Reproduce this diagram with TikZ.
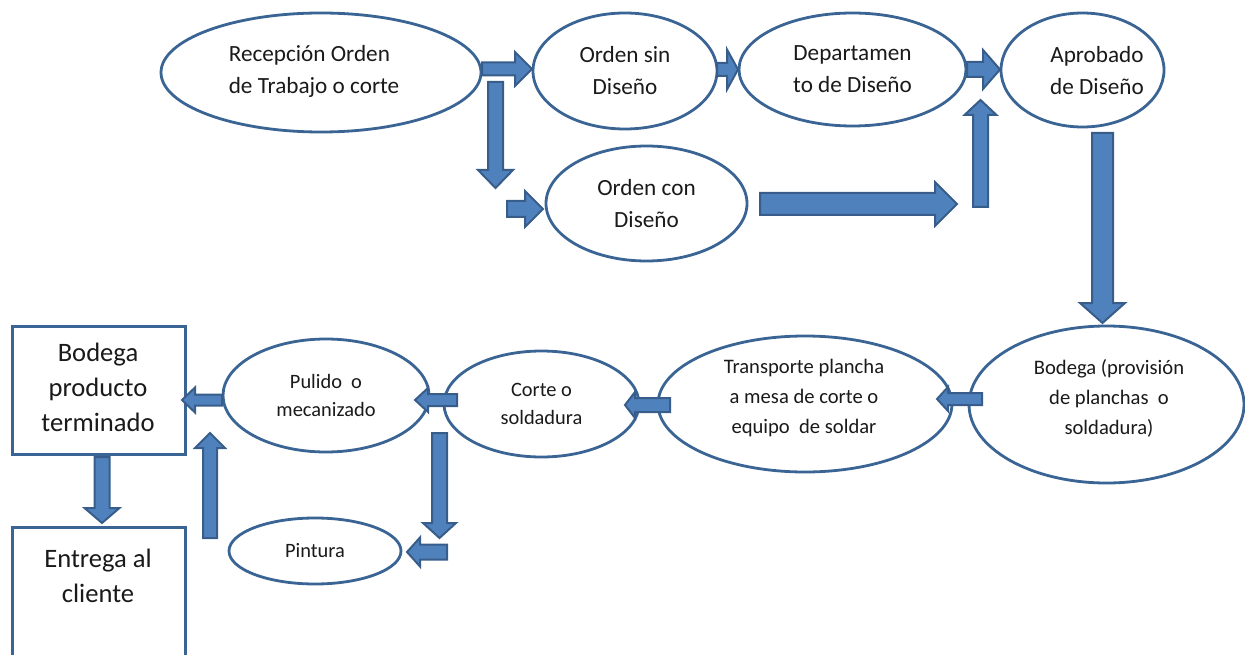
\documentclass[tikz,border=0pt]{standalone}
\usepackage{fontspec}
\setmainfont{Carlito}
\usetikzlibrary{shapes.geometric,calc}
\definecolor{afill}{HTML}{4F81BD}
\definecolor{aline}{HTML}{385D8A}
\definecolor{sline}{HTML}{3A6494}
\definecolor{txt}{HTML}{1A1A1A}
% #1 start, #2 end (coordinate names), #3 shaft half width, #4 head half width, #5 head length
\newcommand\blockarrow[5]{%
  \path ($(#2)!#5!(#1)$) coordinate (bh);
  \draw[blk] ($(#1)!#3!90:(#2)$) -- ($(bh)!#3!90:(#2)$) -- ($(bh)!#4!90:(#2)$) -- (#2)
    -- ($(bh)!#4!-90:(#2)$) -- ($(bh)!#3!-90:(#2)$) -- ($(#1)!#3!-90:(#2)$) -- cycle;}
\begin{document}
\begin{tikzpicture}[x=1pt,y=-1pt,
  ell/.style={ellipse, draw=sline, line width=2.8pt, fill=white, inner sep=0pt},
  box/.style={rectangle, draw=sline, line width=3pt, fill=white, inner sep=0pt},
  tA/.style={align=center, text=txt, font=\fontsize{23.2}{32}\selectfont},
  tB/.style={align=center, text=txt, font=\fontsize{20.6}{30}\selectfont},
  tC/.style={align=center, text=txt, font=\fontsize{20.4}{28}\selectfont},
  tR/.style={align=center, text=txt, font=\fontsize{26.6}{35}\selectfont},
  blk/.style={fill=afill, draw=aline, line width=2pt, line join=miter}]
\useasboundingbox (0,0) rectangle (1245,655);
\clip (0,0) rectangle (1245,655);

% ---- shapes ----
\node[ell, minimum width=320pt, minimum height=119pt] (rec) at (321,72.5) {};
\node[tA, align=left] (rec-t) at (314,71) {Recepción Orden\\de Trabajo o corte};
\node[ell, minimum width=184pt, minimum height=116pt, tA] (sin) at (625,71) {Orden sin\\Diseño};
\node[ell, minimum width=227pt, minimum height=113pt, tA] (dep) at (852.5,69.5) {Departamen\\to de Diseño};
\node[ell, minimum width=163pt, minimum height=114pt] (apr) at (1082.5,70) {};
\node[tA] (apr-t) at (1097,71) {Aprobado\\de Diseño};
\node[ell, minimum width=201pt, minimum height=115pt, tA] (con) at (646.5,203.5) {Orden con\\Diseño};

\node[ell, minimum width=275pt, minimum height=157pt] (bprov) at (1106.5,404.5) {};
\node[tB] (bprov-t) at (1109,398) {Bodega (provisión\\de planchas\ \ o\\soldadura)};
\node[ell, minimum width=294pt, minimum height=136pt] (trans) at (805,404) {};
\node[tB] (trans-t) at (804,398) {Transporte plancha\\a mesa de corte o\\equipo\ \ de soldar};
\node[ell, minimum width=195pt, minimum height=106pt, tC] (corte) at (541.5,404) {Corte o\\soldadura};
\node[ell, minimum width=206pt, minimum height=113pt, tC] (pul) at (326,395.5) {Pulido\ \ o\\mecanizado};
\node[ell, minimum width=172pt, minimum height=66pt, tC] (pint) at (315,551) {Pintura};

\node[box, minimum width=173pt, minimum height=128pt] (bpt) at (98.5,390) {};
\node[tR] (bpt-t) at (98,387) {Bodega\\producto\\terminado};
\node[box, minimum width=173pt, minimum height=152pt] (ent) at (98.5,603) {};
\node[tR] (ent-t) at (98,575.5) {Entrega al\\cliente};

% ---- arrow end points ----
\coordinate (a1s) at (482,69);    \coordinate (a1e) at (532,69);
\coordinate (a2s) at (495.5,82);  \coordinate (a2e) at (495.5,188);
\coordinate (a3s) at (507,209);   \coordinate (a3e) at (543,209);
\coordinate (a4s) at (717,69.5);  \coordinate (a4e) at (738,69.5);
\coordinate (a5s) at (967,69.5);  \coordinate (a5e) at (1000,69.5);
\coordinate (a6s) at (980.5,207); \coordinate (a6e) at (980.5,100);
\coordinate (a7s) at (760,204);   \coordinate (a7e) at (957,204);
\coordinate (a8s) at (1102.5,133);\coordinate (a8e) at (1102.5,323);
\coordinate (a9s) at (982,399);   \coordinate (a9e) at (937,399);
\coordinate (a10s) at (670,405);  \coordinate (a10e) at (625,405);
\coordinate (a11s) at (457,400);  \coordinate (a11e) at (415,400);
\coordinate (a12s) at (222,400);  \coordinate (a12e) at (182,400);
\coordinate (a13s) at (439.5,433);\coordinate (a13e) at (439.5,538);
\coordinate (a14s) at (447,552);  \coordinate (a14e) at (407,552);
\coordinate (a15s) at (210,538);  \coordinate (a15e) at (210,433);
\coordinate (a16s) at (102,457);  \coordinate (a16e) at (102,523);

% ---- block arrows ----
\blockarrow{a1s}{a1e}{6.5pt}{17pt}{17pt}
\blockarrow{a2s}{a2e}{7.5pt}{17.5pt}{18pt}
\blockarrow{a3s}{a3e}{8pt}{18pt}{18pt}
\blockarrow{a4s}{a4e}{6.5pt}{20pt}{11pt}
\blockarrow{a5s}{a5e}{7.5pt}{19.5pt}{17pt}
\blockarrow{a6s}{a6e}{7.5pt}{16pt}{15pt}
\blockarrow{a7s}{a7e}{11pt}{22pt}{22pt}
\blockarrow{a8s}{a8e}{10.5pt}{22.5pt}{20pt}
\blockarrow{a9s}{a9e}{6pt}{12pt}{11pt}
\blockarrow{a10s}{a10e}{7pt}{13pt}{10pt}
\blockarrow{a11s}{a11e}{6pt}{12pt}{13pt}
\blockarrow{a12s}{a12e}{5.5pt}{12.5pt}{13pt}
\blockarrow{a13s}{a13e}{7.5pt}{16.5pt}{15pt}
\blockarrow{a14s}{a14e}{7.5pt}{14.5pt}{13pt}
\blockarrow{a15s}{a15e}{7pt}{15pt}{15pt}
\blockarrow{a16s}{a16e}{7.5pt}{17.5pt}{15pt}
\end{tikzpicture}
\end{document}
